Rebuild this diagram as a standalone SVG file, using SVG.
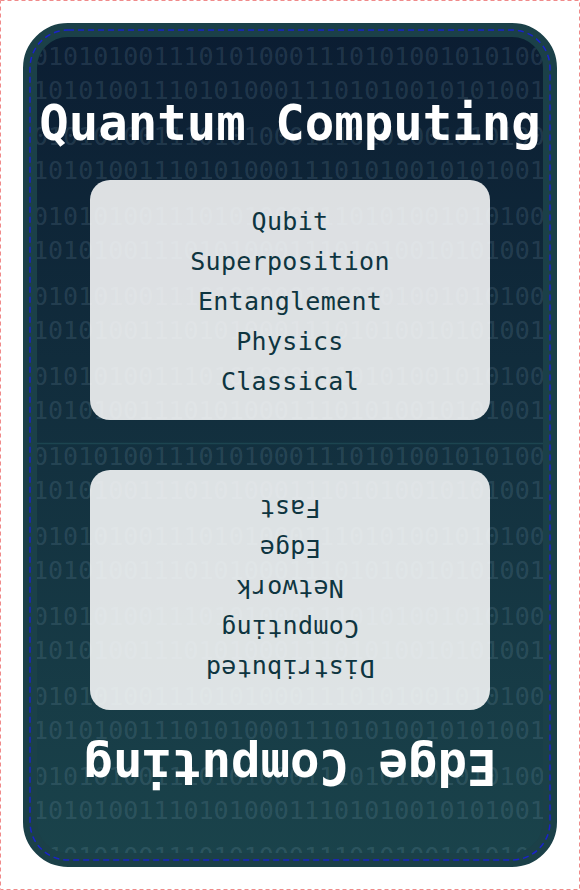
<svg xmlns="http://www.w3.org/2000/svg" width="580" height="890" viewBox="0 0 580 890">
  <defs>
    <linearGradient id="bgGrad" x1="0" y1="0" x2="0" y2="1">
      <stop offset="0" stop-color="#0b1d32"/>
      <stop offset="1" stop-color="#1a434b"/>
    </linearGradient>
    <clipPath id="innerClip">
      <rect x="37" y="37" width="506" height="816" rx="31" ry="31"/>
    </clipPath>
    <style>
      .bin { font-family: "DejaVu Sans Mono", "Liberation Mono", monospace; font-size: 25px; fill: #a9cbe3; fill-opacity: 0.15; }
      .title { font-family: "DejaVu Sans Mono", "Liberation Mono", monospace; font-size: 49px; font-weight: bold; fill: #ffffff; text-anchor: middle; }
      .box { fill: #ffffff; fill-opacity: 0.86; }
      .item { font-family: "DejaVu Sans Mono", "Liberation Mono", monospace; font-size: 25px; fill: #0e3540; text-anchor: middle; letter-spacing: 0.3px; }
    </style>
  </defs>

  <!-- page border -->
  <rect x="0.5" y="0.5" width="579" height="889" fill="none" stroke="#f08a8a" stroke-width="1" stroke-dasharray="4 3"/>

  <!-- card -->
  <g id="card">
    <rect x="30" y="30" width="520" height="830" rx="38" ry="38" fill="url(#bgGrad)" stroke="#1b4048" stroke-width="14"/>
    <g clip-path="url(#innerClip)">
      <text class="bin" x="33" y="65">01010100111010100011101010010101001</text>
      <text class="bin" x="33" y="99">1010100111010100011101010010101001</text>
      <text class="bin" x="33" y="145">01010100111010100011101010010101001</text>
      <text class="bin" x="33" y="179">1010100111010100011101010010101001</text>
      <text class="bin" x="33" y="225">01010100111010100011101010010101001</text>
      <text class="bin" x="33" y="259">1010100111010100011101010010101001</text>
      <text class="bin" x="33" y="305">01010100111010100011101010010101001</text>
      <text class="bin" x="33" y="339">1010100111010100011101010010101001</text>
      <text class="bin" x="33" y="385">01010100111010100011101010010101001</text>
      <text class="bin" x="33" y="419">1010100111010100011101010010101001</text>
      <text class="bin" x="33" y="465">01010100111010100011101010010101001</text>
      <text class="bin" x="33" y="499">1010100111010100011101010010101001</text>
      <text class="bin" x="33" y="545">01010100111010100011101010010101001</text>
      <text class="bin" x="33" y="579">1010100111010100011101010010101001</text>
      <text class="bin" x="33" y="625">01010100111010100011101010010101001</text>
      <text class="bin" x="33" y="659">1010100111010100011101010010101001</text>
      <text class="bin" x="33" y="705">01010100111010100011101010010101001</text>
      <text class="bin" x="33" y="739">1010100111010100011101010010101001</text>
      <text class="bin" x="33" y="785">01010100111010100011101010010101001</text>
      <text class="bin" x="33" y="819">1010100111010100011101010010101001</text>
      <text class="bin" x="33" y="865">01010100111010100011101010010101001</text>
      <line x1="37" y1="443.5" x2="543" y2="443.5" stroke="#1c4550" stroke-width="1.5"/>
    </g>
    <rect x="30" y="30" width="520" height="830" rx="38" ry="38" fill="none" stroke="#1a22cc" stroke-width="1.5" stroke-dasharray="6 4"/>
  </g>

  <!-- front node -->
  <g id="front">
    <text class="title" x="290" y="140">Quantum Computing</text>
    <rect class="box" x="90" y="180" width="400" height="240" rx="20" ry="20"/>
    <text class="item" x="290" y="230">Qubit</text>
    <text class="item" x="290" y="270">Superposition</text>
    <text class="item" x="290" y="310">Entanglement</text>
    <text class="item" x="290" y="350">Physics</text>
    <text class="item" x="290" y="390">Classical</text>
  </g>

  <!-- back node (rotated) -->
  <g id="back" transform="rotate(180 290 445)">
    <text class="title" x="290" y="140">Edge Computing</text>
    <rect class="box" x="90" y="180" width="400" height="240" rx="20" ry="20"/>
    <text class="item" x="290" y="230">Distributed</text>
    <text class="item" x="290" y="270">Computing</text>
    <text class="item" x="290" y="310">Network</text>
    <text class="item" x="290" y="350">Edge</text>
    <text class="item" x="290" y="390">Fast</text>
  </g>

  <g id="connectors"/>
</svg>
